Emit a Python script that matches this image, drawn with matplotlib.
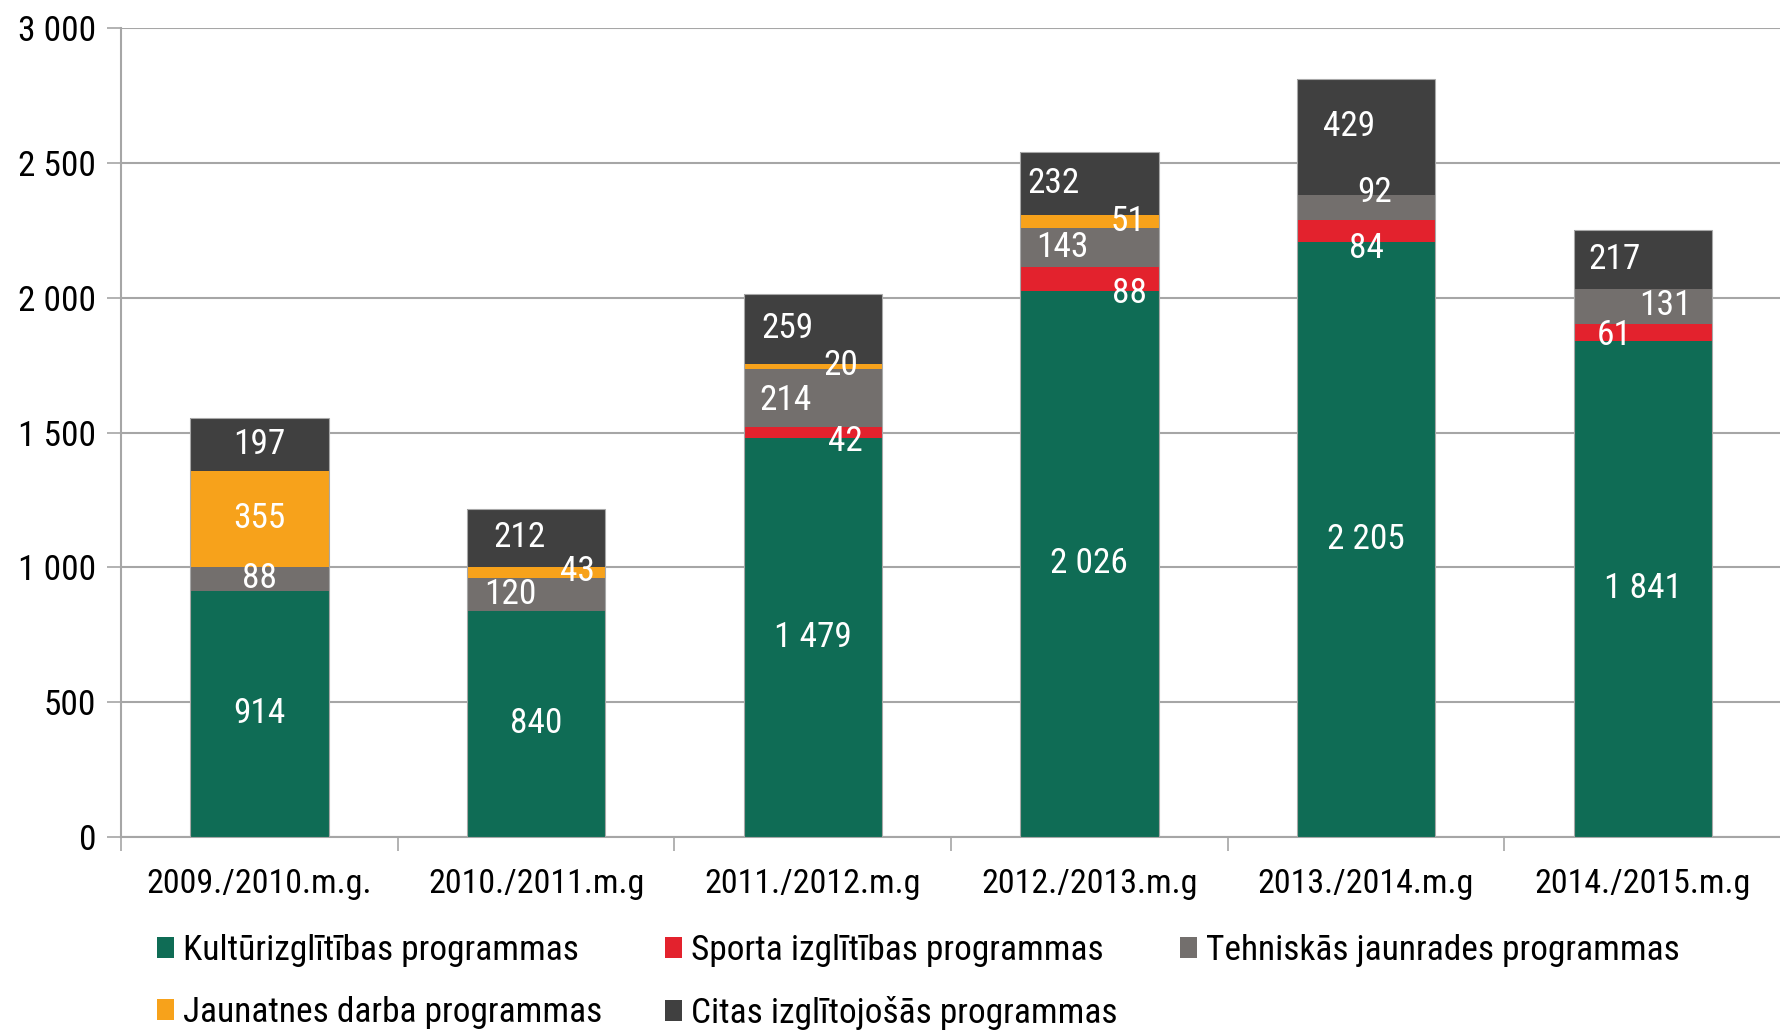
import matplotlib.pyplot as plt
from matplotlib.patches import Patch
import numpy as np

plt.rcParams['font.family'] = ['Roboto Condensed', 'Archivo Narrow', 'DejaVu Sans']

# dati
years = ['2009./2010.m.g.', '2010./2011.m.g', '2011./2012.m.g',
         '2012./2013.m.g', '2013./2014.m.g', '2014./2015.m.g']
kultura = [914, 840, 1479, 2026, 2205, 1841]
sports = [0, 0, 42, 88, 84, 61]
tehniskas = [88, 120, 214, 143, 92, 131]
jaunatnes = [355, 43, 20, 51, 0, 0]
citas = [197, 212, 259, 232, 429, 217]

names = ['Kultūrizglītības programmas', 'Sporta izglītības programmas',
         'Tehniskās jaunrades programmas', 'Jaunatnes darba programmas',
         'Citas izglītojošās programmas']
colors = ['#0F6C55', '#E3222D', '#736F6D', '#F7A21B', '#404040']

# label shifts in pixels (dx, dy) for small segments
shifts = {
    (1, 2): (-26, 0), (1, 3): (41, 1), (1, 4): (-17, 0),
    (2, 1): (33, -9), (2, 2): (-27, -3), (2, 3): (28, 1), (2, 4): (-25, 0),
    (3, 1): (40, -15), (3, 2): (-27, 0), (3, 3): (39, 0), (3, 4): (-36, 0),
    (4, 1): (0, -18), (4, 2): (9, 15), (4, 4): (-17, 10),
    (5, 1): (-28, -3), (5, 2): (23, 1), (5, 4): (-28, 0),
}

def fmt(v):
    return '{:,}'.format(int(v)).replace(',', ' ')

fig = plt.figure(figsize=(17.81, 10.31), dpi=100)
ax = fig.add_axes([0.068, 0.188, 0.932, 0.785])

series = [kultura, sports, tehniskas, jaunatnes, citas]
x = np.arange(len(years))
bottom = np.zeros(len(years))
for si, vals in enumerate(series):
    vals = np.array(vals, dtype=float)
    ax.bar(x, vals, 0.5, bottom=bottom, color=colors[si], edgecolor='none', zorder=3)
    for i in range(len(years)):
        if vals[i] <= 0:
            continue
        dx, dy = shifts.get((i, si), (0, 0))
        ax.annotate(fmt(vals[i]), (x[i], bottom[i] + vals[i] / 2),
                    xytext=(dx, dy), textcoords='offset pixels',
                    ha='center', va='center', color='white', fontsize=25.5, zorder=5)
    bottom += vals

# outline around whole stacks
ax.bar(x, bottom, 0.5, color='none', edgecolor='#A8A8A8', linewidth=0.8, zorder=4)

ax.set_ylim(0, 3000)
ax.set_xlim(-0.5, 5.5)
ax.set_yticks(np.arange(0, 3001, 500))
ax.set_yticklabels([fmt(v) for v in np.arange(0, 3001, 500)], fontsize=25.5)
ax.yaxis.grid(True, color='#A6A6A6', linewidth=1.5, zorder=0)
ax.set_axisbelow(True)

ax.set_xticks(x)
ax.set_xticklabels(years, fontsize=24.5)
ax.set_xticks(np.arange(-0.5, 6, 1), minor=True)
ax.tick_params(axis='x', which='major', length=0, pad=22)
ax.tick_params(axis='x', which='minor', length=10, color='#A6A6A6', width=1.2)
ax.tick_params(axis='y', length=10, color='#A6A6A6', width=1.2, pad=8)

for s in ['top', 'right']:
    ax.spines[s].set_visible(False)
ax.spines['left'].set_color('#A6A6A6')
ax.spines['bottom'].set_color('#A6A6A6')
ax.spines['left'].set_linewidth(1.5)
ax.spines['bottom'].set_linewidth(1.5)

handles = [Patch(facecolor=c, edgecolor='none') for c in colors]
order = [0, 3, 1, 4, 2]
fig.legend([handles[i] for i in order], [names[i] for i in order],
           loc='upper left', bbox_to_anchor=(0.088, 0.094), ncol=3,
           frameon=False, fontsize=25.5, handlelength=0.5, handleheight=0.5,
           handletextpad=0.25, columnspacing=1.75, labelspacing=0.82,
           borderaxespad=0, borderpad=0)

fig.savefig('out.png', dpi=100)
